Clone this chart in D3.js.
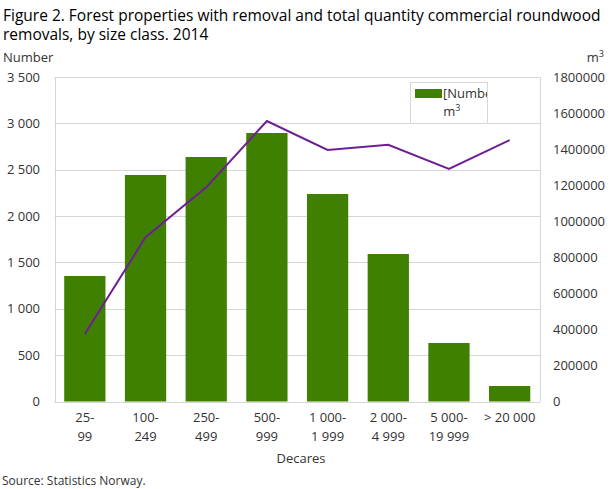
<!DOCTYPE html>
<html>
<head>
<meta charset="utf-8">
<script src="https://cdn.jsdelivr.net/npm/d3@7"></script>
<style>
  body { margin: 0; background: #fff; }
  svg { font-family: "Open Sans", sans-serif; }
</style>
</head>
<body>
<div id="chart"></div>
<script>
const categories = [["25-", "99"], ["100-", "249"], ["250-", "499"], ["500-", "999"], ["1 000-", "1 999"], ["2 000-", "4 999"], ["5 000-", "19 999"], ["> 20 000"]];
const propertiesNumber = [1354, 2443, 2637, 2896, 2238, 1591, 631, 167];
const removalsM3 = [374000, 911000, 1188000, 1556000, 1395000, 1424000, 1290000, 1450000];
const leftTicks = [0, 500, 1000, 1500, 2000, 2500, 3000, 3500];
const rightTicks = [0, 200000, 400000, 600000, 800000, 1000000, 1200000, 1400000, 1600000, 1800000];
const legendLabels = ["[Number]", "[m³]"];

const W = 610, H = 489;
const m = { left: 54.5, right: 540, top: 77, bottom: 401.5 };
const svg = d3.select("#chart").append("svg").attr("width", W).attr("height", H);

const x = d3.scaleBand().domain(d3.range(categories.length)).range([m.left, m.right]).paddingInner(0.32).paddingOuter(0.16);
const yL = d3.scaleLinear().domain([0, 3500]).range([m.bottom, m.top]);
const yR = d3.scaleLinear().domain([0, 1800000]).range([m.bottom, m.top]);

// Title
const title = svg.append("text").attr("x", 3).attr("font-size", 15.5).attr("fill", "#000");
title.append("tspan").attr("x", 3).attr("y", 21).text("Figure 2. Forest properties with removal and total quantity commercial roundwood");
title.append("tspan").attr("x", 3).attr("y", 40).text("removals, by size class. 2014");

// gridlines
svg.append("g").selectAll("line").data(leftTicks).join("line")
  .attr("x1", m.left).attr("x2", m.right)
  .attr("y1", d => Math.round(yL(d)) + 0.5).attr("y2", d => Math.round(yL(d)) + 0.5)
  .attr("stroke", "#d6d6d6").attr("stroke-width", 1);
// side frame
[m.left, m.right].forEach(xx => {
  svg.append("line").attr("x1", Math.round(xx) + 0.5).attr("x2", Math.round(xx) + 0.5)
    .attr("y1", m.top).attr("y2", m.bottom + 0.5).attr("stroke", "#d6d6d6");
});

// left axis labels
svg.append("g").selectAll("text").data(leftTicks).join("text")
  .attr("x", 40).attr("y", d => yL(d) + 4.5).attr("text-anchor", "end")
  .attr("font-size", 13).attr("fill", "#333")
  .text(d => d3.format(",")(d).replace(/,/g, " "));
// right axis labels
svg.append("g").selectAll("text").data(rightTicks).join("text")
  .attr("x", 553).attr("y", d => yR(d) + 4.5).attr("text-anchor", "start")
  .attr("font-size", 13).attr("fill", "#333")
  .text(d => String(d));

svg.append("text").attr("x", 3).attr("y", 62).attr("font-size", 13).attr("fill", "#333").text("Number");
const mt = svg.append("text").attr("x", 604).attr("y", 62).attr("font-size", 13).attr("fill", "#333").attr("text-anchor", "end");
mt.append("tspan").text("m");
mt.append("tspan").attr("font-size", 9).attr("dy", -5).text("3");

// bars
svg.append("g").selectAll("rect").data(propertiesNumber).join("rect")
  .attr("x", (d, i) => x(i)).attr("width", x.bandwidth())
  .attr("y", d => yL(d)).attr("height", d => yL(0) - yL(d))
  .attr("fill", "#408000");

// line
const line = d3.line().x((d, i) => x(i) + x.bandwidth() / 2).y(d => yR(d));
svg.append("path").datum(removalsM3).attr("d", line)
  .attr("fill", "none").attr("stroke", "#6e1e96").attr("stroke-width", 2);

// x labels
const xl = svg.append("g");
categories.forEach((c, i) => {
  const t = xl.append("text").attr("text-anchor", "middle").attr("font-size", 13).attr("fill", "#333");
  c.forEach((s, j) => {
    t.append("tspan").attr("x", x(i) + x.bandwidth() / 2).attr("y", 422 + j * 18.5).text(s);
  });
});
svg.append("text").attr("x", 301).attr("y", 462.5).attr("text-anchor", "middle")
  .attr("font-size", 13).attr("fill", "#333").text("Decares");
svg.append("text").attr("x", 2).attr("y", 485).attr("font-size", 12).attr("fill", "#333").text("Source: Statistics Norway.");

// legend (clipped)
const lg = svg.append("g");
const defs = svg.append("defs");
defs.append("clipPath").attr("id", "lgclip").append("rect")
  .attr("x", 410).attr("y", 82).attr("width", 77).attr("height", 19);
lg.append("rect").attr("x", 410.5).attr("y", 82.5).attr("width", 77).attr("height", 41)
  .attr("fill", "#fff").attr("stroke", "#d6d6d6");
lg.append("rect").attr("x", 415).attr("y", 89).attr("width", 27).attr("height", 9).attr("fill", "#408000");
lg.append("g").attr("clip-path", "url(#lgclip)").append("text")
  .attr("x", 443).attr("y", 98).attr("font-size", 13).attr("fill", "#333").text(legendLabels[0]);
defs.append("clipPath").attr("id", "lgclip2").append("rect")
  .attr("x", 443).attr("y", 102).attr("width", 44).attr("height", 20);
const t2 = lg.append("g").attr("clip-path", "url(#lgclip2)").append("text")
  .attr("x", 439).attr("y", 116).attr("font-size", 13).attr("fill", "#333");
t2.append("tspan").text("[m");
t2.append("tspan").attr("font-size", 9).attr("dy", -5).text("3");
</script>
</body>
</html>
